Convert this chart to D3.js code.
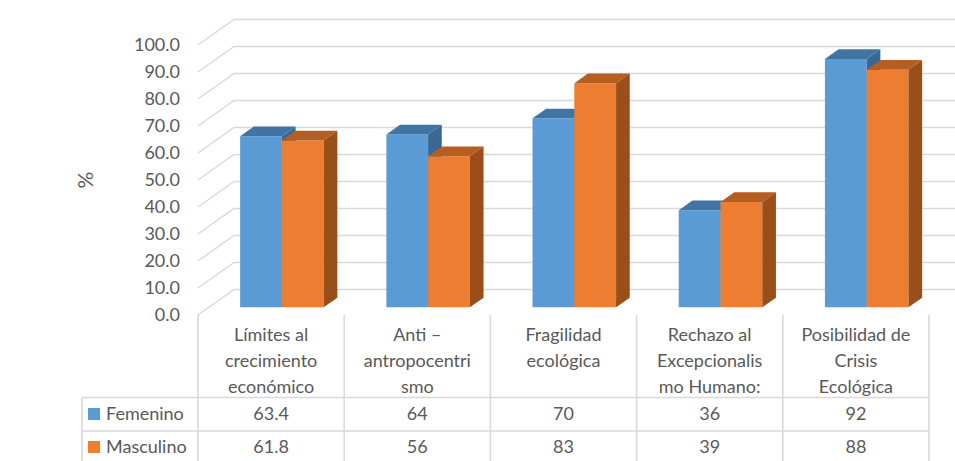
<!DOCTYPE html>
<html>
<head>
<meta charset="utf-8">
<script src="https://cdn.jsdelivr.net/npm/d3@7/dist/d3.min.js"></script>
<style>
  html, body { margin: 0; padding: 0; background: #fff; }
  svg { display: block; font-family: Lato, "Open Sans", sans-serif; }
</style>
</head>
<body>
<svg id="chart" width="955" height="461"></svg>
<script>
// Chart data
const categories = [
  ["Límites al", "crecimiento", "económico"],
  ["Anti –", "antropocentri", "smo"],
  ["Fragilidad", "ecológica"],
  ["Rechazo al", "Excepcionalis", "mo Humano:"],
  ["Posibilidad de", "Crisis", "Ecológica"]
];
const seriesNames = ["Femenino", "Masculino"];
const femenino = [63.4, 64, 70, 36, 92];
const masculino = [61.8, 56, 83, 39, 88];
const valueLabels = [
  ["63.4", "64", "70", "36", "92"],
  ["61.8", "56", "83", "39", "88"]
];
const yTicks = [0, 10, 20, 30, 40, 50, 60, 70, 80, 90, 100];

// Layout
const W = 955, H = 461;
const plotLeft = 198, plotRight = 929;
const floorY = 315, topY = 45;
const depth = { dx: 36, dy: -25.5 };   // full depth of the 3D box
const barFront = 0.3, barDepth = 0.38;  // bar position inside the depth
const textColor = "#595959", gridColor = "#D9D9D9";

const colors = [
  { front: "#5B9BD5", top: "#4274A3", side: "#3A6894" },
  { front: "#ED7D31", top: "#B55E20", side: "#9A4F1B" }
];

const svg = d3.select("#chart");

const y = d3.scaleLinear().domain([0, 100]).range([floorY, topY]);
const x0 = d3.scaleBand().domain(d3.range(categories.length)).range([plotLeft, plotRight]).paddingInner(0).paddingOuter(0);
const x1 = d3.scaleBand().domain([0, 1]).range([0, x0.bandwidth()]).paddingInner(0).paddingOuter(0.75);

// Projection helper: value plane point at depth t
const P = (px, py, t) => [px + depth.dx * t, py + depth.dy * t];

// Gridlines: diagonal on left side wall + horizontal on back wall
const grid = svg.append("g");
yTicks.forEach(v => {
  const a = [plotLeft, y(v)];
  const b = P(plotLeft, y(v), 1);
  grid.append("path")
    .attr("d", `M${a[0]},${a[1]}L${b[0]},${b[1]}L${W},${b[1]}`)
    .attr("fill", "none").attr("stroke", gridColor).attr("stroke-width", 1.4);
});

// Y tick labels
svg.append("g").selectAll("text").data(yTicks).join("text")
  .attr("x", 180).attr("y", d => y(d))
  .attr("dy", "0.35em").attr("text-anchor", "end")
  .attr("font-size", 18).attr("fill", textColor)
  .text(d => d.toFixed(1));

// Axis title
svg.append("text")
  .attr("transform", `translate(86,180) rotate(-90)`)
  .attr("text-anchor", "middle").attr("dy", "0.35em")
  .attr("font-size", 21).attr("fill", textColor)
  .text("%");

// 3D bars
const bars = svg.append("g");
const seriesValues = [femenino, masculino];
categories.forEach((c, i) => {
  [0, 1].forEach(s => {
    const v = seriesValues[s][i];
    const xl = x0(i) + x1(s), xr = xl + x1.bandwidth();
    const yb = y(0), yt = y(v);
    const f = t => (px, py) => P(px, py, t);
    const fr = f(barFront), bk = f(barFront + barDepth);
    const poly = pts => "M" + pts.map(p => p.join(",")).join("L") + "Z";
    const col = colors[s];
    // front face
    bars.append("path").attr("d", poly([fr(xl, yb), fr(xr, yb), fr(xr, yt), fr(xl, yt)])).attr("fill", col.front);
    // top face
    bars.append("path").attr("d", poly([fr(xl, yt), fr(xr, yt), bk(xr, yt), bk(xl, yt)])).attr("fill", col.top);
    // right side face
    bars.append("path").attr("d", poly([fr(xr, yb), bk(xr, yb), bk(xr, yt), fr(xr, yt)])).attr("fill", col.side);
  });
});

// Data table
const table = svg.append("g");
const tableLeft = 82, row1 = 397.5, row2 = 431, tableBottom = 461;
const line = (x1_, y1_, x2_, y2_) => table.append("line")
  .attr("x1", x1_).attr("y1", y1_).attr("x2", x2_).attr("y2", y2_)
  .attr("stroke", gridColor).attr("stroke-width", 1.6);

// vertical separators
d3.range(categories.length + 1).forEach(i => {
  const xx = i < categories.length ? x0(i) : plotRight;
  line(xx, floorY, xx, tableBottom);
});
line(tableLeft, row1, tableLeft, tableBottom);
line(tableLeft, row1, plotRight, row1);
line(tableLeft, row2, plotRight, row2);

// category labels
categories.forEach((lines, i) => {
  const cx = x0(i) + x0.bandwidth() / 2;
  table.append("text")
    .attr("text-anchor", "middle").attr("font-size", 18).attr("fill", textColor)
    .selectAll("tspan").data(lines).join("tspan")
    .attr("x", cx).attr("y", (d, k) => 335 + k * 26).attr("dy", "0.35em")
    .text(d => d);
});

// series rows
const rowY = [414, 447];
seriesNames.forEach((name, s) => {
  table.append("rect").attr("x", 88).attr("y", rowY[s] - 6).attr("width", 12).attr("height", 12).attr("fill", colors[s].front);
  table.append("text").attr("x", 106).attr("y", rowY[s]).attr("dy", "0.35em")
    .attr("font-size", 18).attr("fill", textColor).text(name);
  valueLabels[s].forEach((t, i) => {
    table.append("text").attr("x", x0(i) + x0.bandwidth() / 2).attr("y", rowY[s]).attr("dy", "0.35em")
      .attr("text-anchor", "middle").attr("font-size", 18).attr("fill", textColor).text(t);
  });
});
</script>
</body>
</html>
